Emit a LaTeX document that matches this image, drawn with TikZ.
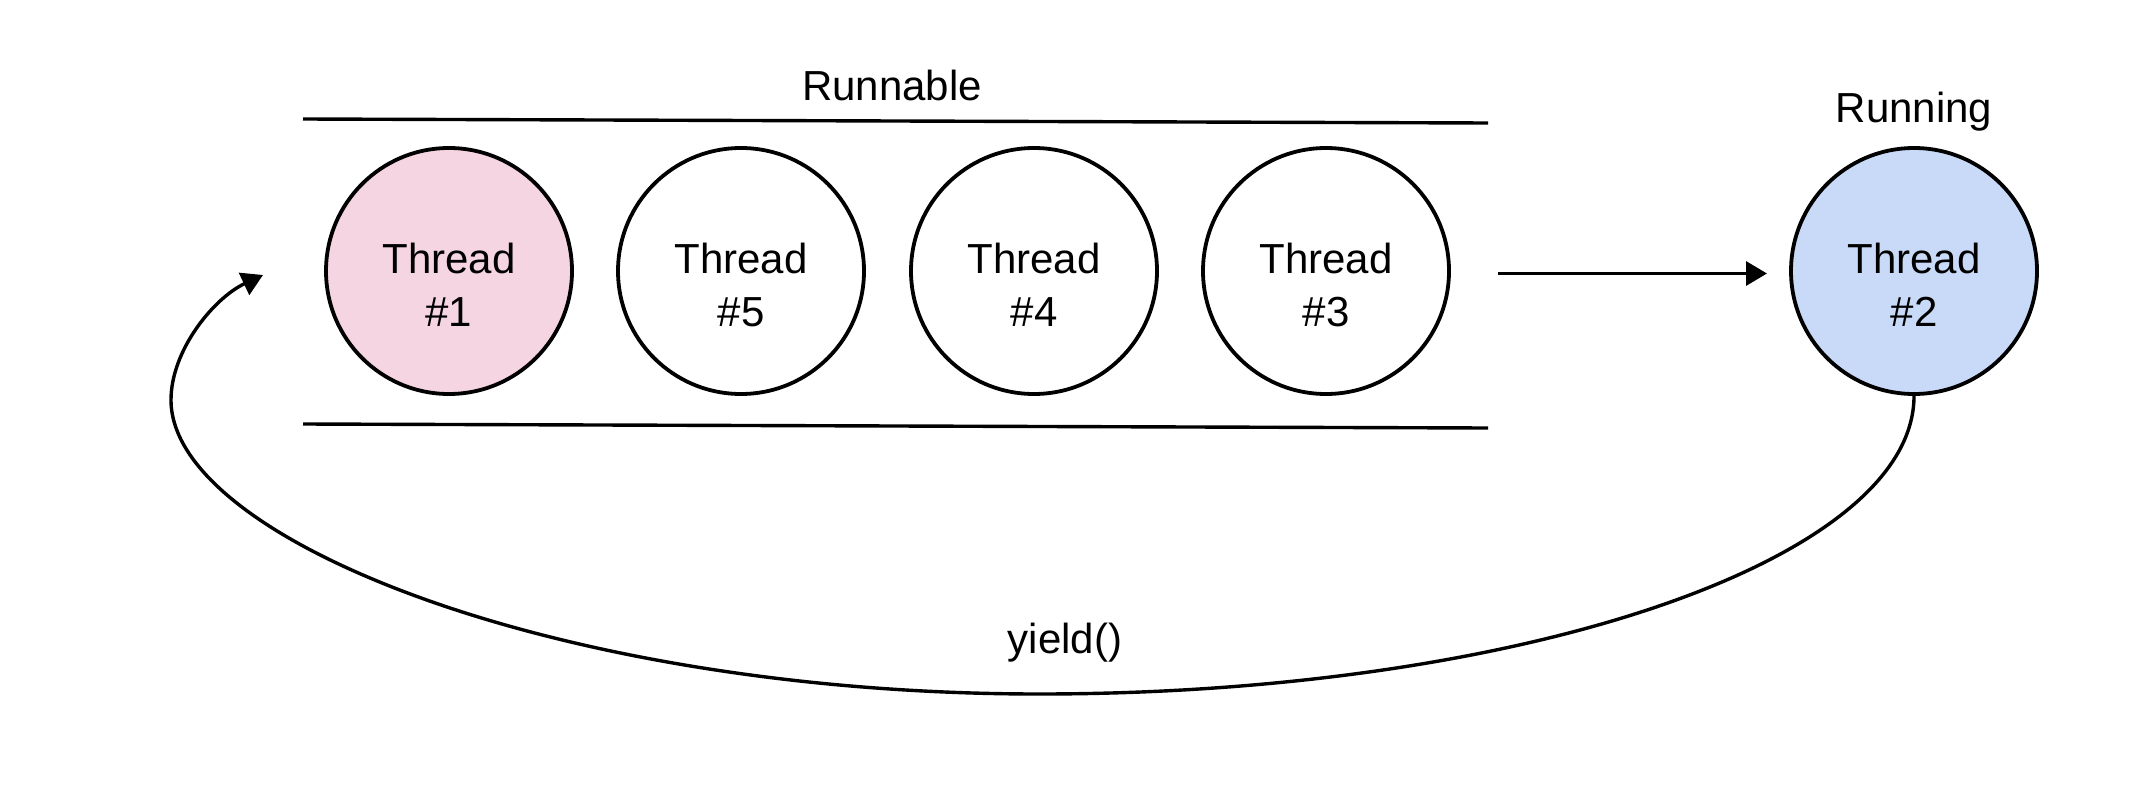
\documentclass[tikz,border=0pt]{standalone}
\usepackage{fontspec}
\setmainfont{Liberation Sans}
\usetikzlibrary{arrows.meta,calc}
\definecolor{pinkfill}{HTML}{F6D5E3}
\definecolor{bluefill}{HTML}{C9DAF8}
\tikzset{
  thread/.style={circle,draw=black,line width=3.8pt,minimum size=246pt,inner sep=0pt},
  ttext/.style={align=center,font=\fontsize{42}{53}\selectfont,inner sep=0pt},
  lbl/.style={font=\fontsize{42}{53}\selectfont,inner sep=0pt,anchor=base},
  conn/.style={line width=3.4pt},
  tip/.style={-{Triangle[length=21pt,width=24pt]}}
}
\begin{document}
\begin{tikzpicture}[x=1pt,y=-1pt]
\useasboundingbox (0,0) rectangle (2144,800);
% queue borders
\coordinate (qtl) at (303,119);
\coordinate (qtr) at (1488,123);
\coordinate (qbl) at (303,424);
\coordinate (qbr) at (1488,428);
\draw[conn] (qtl) -- (qtr);
\draw[conn] (qbl) -- (qbr);
% threads
\node[thread,fill=pinkfill] (t1) at (449,271) {};
\node[thread] (t5) at (741,271) {};
\node[thread] (t4) at (1034,271) {};
\node[thread] (t3) at (1326,271) {};
\node[thread,fill=bluefill] (t2) at (1914,271) {};
\node[ttext] (t1l) at ([yshift=-13.5pt]t1.center) {Thread\\\#1};
\node[ttext] (t5l) at ([yshift=-13.5pt]t5.center) {Thread\\\#5};
\node[ttext] (t4l) at ([yshift=-13.5pt]t4.center) {Thread\\\#4};
\node[ttext] (t3l) at ([yshift=-13.5pt]t3.center) {Thread\\\#3};
\node[ttext] (t2l) at ([yshift=-13.5pt]t2.center) {Thread\\\#2};
% labels
\node[lbl] (runnable) at (892,100) {Runnable};
\node[lbl] (running) at (1914,122) {Running};
\node[lbl] (yield) at (1065,653) {yield()};
% dispatch arrow
\coordinate (da) at (1498,273.5);
\coordinate (db) at (1767,273.5);
\draw[conn,tip] (da) -- (db);
% yield arrow
\coordinate (ybot) at (1039,694);
\coordinate (yleft) at (171,400);
\coordinate (yend) at (263,275);
\draw[conn,tip] (t2.south) .. controls (1914,560) and (1522,694) .. (ybot)
  .. controls (560,694) and (171,540) .. (yleft)
  .. controls (171,350) and (214,298) .. (yend);
\end{tikzpicture}
\end{document}
